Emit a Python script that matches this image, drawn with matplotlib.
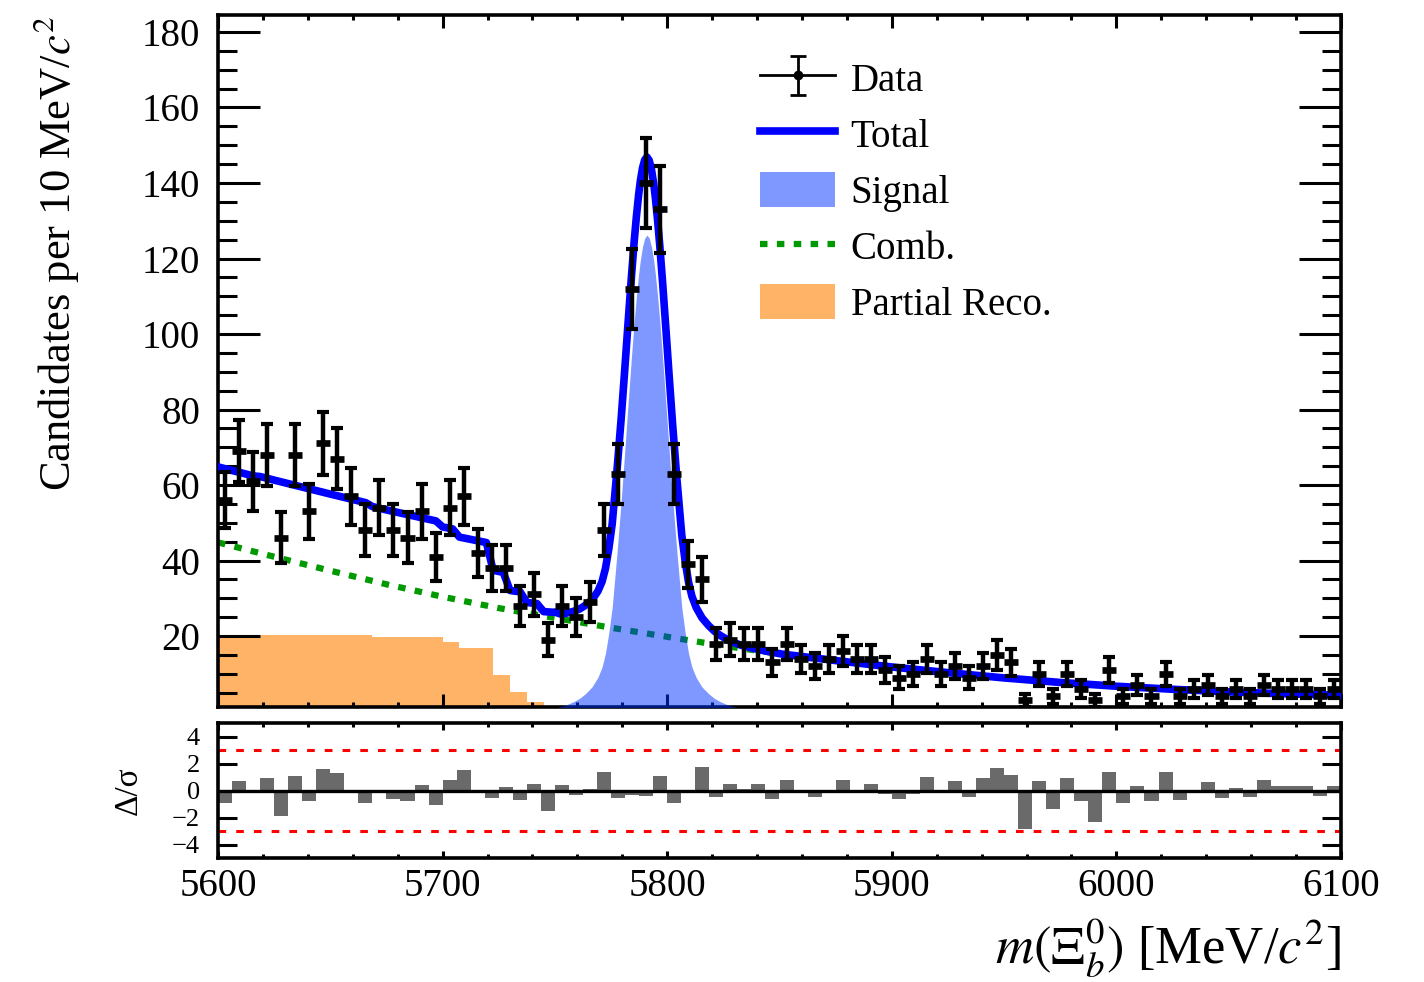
import numpy as np
import matplotlib.pyplot as plt
from matplotlib.lines import Line2D
from matplotlib.patches import Patch
from matplotlib.ticker import MultipleLocator

plt.rcParams['font.family'] = 'serif'
plt.rcParams['font.serif'] = ['Liberation Serif', 'DejaVu Serif']
plt.rcParams['mathtext.fontset'] = 'stix'

# binning of the data histogram
m_lo, m_hi = 5600.0, 6100.0
bin_w = 6.25

# candidates per bin
counts = [56, 69, 61, 68, 46, 68, 53, 71, 67, 57,
          48, 54, 48, 46, 53, 41, 54, 57, 42, 38,
          38, 28, 31, 19, 28, 25, 29, 48, 63, 112,
          140, 133, 63, 39, 35, 18, 19, 18, 18, 13,
          18, 14, 12, 14, 16, 14, 14, 11, 9, 10,
          14, 10, 12, 9, 12, 15, 13, 3, 10, 4,
          10, 6, 3, 11, 4, 7, 4, 10, 4, 6,
          7, 4, 6, 4, 7, 6, 6, 6, 4, 6]

# pulls per bin
pulls = [-0.9, 0.7, -0.2, 0.9, -1.9, 1.1, -0.75, 1.6, 1.3, 0.05,
         -0.9, 0.05, -0.6, -0.75, 0.4, -1.05, 0.8, 1.5, -0.05, -0.55,
         0.25, -0.7, 0.5, -1.5, 0.4, -0.35, 0.1, 1.4, -0.55, -0.3,
         -0.4, 1.1, -0.9, 0.05, 1.75, -0.45, 0.45, 0.1, 0.45, -0.65,
         0.75, 0.05, -0.45, 0.05, 0.8, 0.05, 0.5, -0.25, -0.65, -0.25,
         1.0, 0.05, 0.7, -0.45, 0.9, 1.7, 1.15, -2.85, 0.7, -1.35,
         0.9, -0.75, -2.3, 1.4, -0.95, 0.3, -0.8, 1.35, -0.7, 0.05,
         0.6, -0.55, 0.2, -0.5, 0.75, 0.3, 0.3, 0.35, -0.4, 0.35]

# combinatorial background curve (mass, value)
comb_m = [5600, 5625, 5650, 5675, 5700, 5725, 5750, 5775, 5800, 5825, 5850,
          5875, 5900, 5925, 5950, 5975, 6000, 6025, 6050, 6075, 6100]
comb_v = [44.8, 41.0, 37.3, 33.7, 30.4, 27.4, 24.8, 22.2, 19.8, 17.4, 15.3,
          13.5, 11.8, 10.3, 8.9, 7.7, 6.7, 5.9, 5.2, 4.7, 4.3]

# signal shape: distance from peak and height
sig_mean = 5791.0
sig_h = [0, 1, 2, 3, 3.75, 4.7, 5.7, 7, 8.55, 10, 11.5, 13.35, 15.5, 17,
         18.5, 20, 21.9, 24.5, 27.5, 30, 32.7, 37, 42, 50, 60]
sig_v = [126.2, 125.4, 123.1, 119.4, 115.7, 110.1, 103.3, 93.3, 80.4, 68.1,
         55.8, 42.0, 27.5, 20.8, 15.4, 11.8, 9.0, 6.5, 4.7, 3.5, 2.6, 1.5,
         0.8, 0.3, 0.0]

# partially reconstructed background (step template)
pr_edges = [5600, 5618.75, 5668.75, 5700, 5707.5, 5722.5, 5730, 5737.5, 5745, 5752.5]
pr_vals = [20.0, 20.3, 19.7, 18.5, 16.7, 9.7, 5.2, 2.6, 0.6]

counts = np.array(counts, dtype=float)
pulls = np.array(pulls)
centers = m_lo + bin_w * (np.arange(len(counts)) + 0.5)

sig_h = np.array(sig_h)
sig_v = np.array(sig_v)
sig_m = np.concatenate([sig_mean - sig_h[::-1], sig_mean + sig_h[1:]])
sig_y = np.concatenate([sig_v[::-1], sig_v[1:]])

# total = sum of the drawn components
pr_e = np.array(pr_edges)
grid = np.unique(np.concatenate([comb_m, sig_m, pr_e, pr_e[1:] - 3.0]))
comb_g = np.interp(grid, comb_m, comb_v)
sig_g = np.interp(grid, sig_m, sig_y, left=0, right=0)
idx = np.searchsorted(pr_e, grid, side='right') - 1
pr_g = np.where((idx >= 0) & (idx < len(pr_vals)),
                np.array(pr_vals + [0.0])[np.clip(idx, 0, len(pr_vals))], 0.0)
total_g = comb_g + sig_g + pr_g

fig = plt.figure(figsize=(14.24, 9.82), dpi=100)
W, H = 1424, 982
ax = fig.add_axes([218 / W, 1 - 707 / H, 1123 / W, 692 / H])
axr = fig.add_axes([218 / W, 1 - 858 / H, 1123 / W, 135 / H])

orange = '#FFB366'
green = '#009A00'
blue = '#0000FF'

ax.stairs(pr_vals, pr_edges, fill=True, color=orange, lw=0, zorder=1)
ax.plot(comb_m, comb_v, color=green, lw=4.5, dashes=(1.2, 1.5),
        dash_capstyle='butt', zorder=2)
ax.fill_between(sig_m, 0, sig_y, color=(0, 0.2, 1), alpha=0.5, lw=0, zorder=3)
ax.plot(grid, total_g, color=blue, lw=5.5, zorder=4)

# data: horizontal bin bars + vertical poisson errors
ax.errorbar(centers, counts, xerr=bin_w / 2, fmt='none', ecolor='k',
            elinewidth=4.8, capsize=0, zorder=5)
ax.errorbar(centers, counts, yerr=np.sqrt(counts), fmt='none', ecolor='k',
            elinewidth=3.2, capsize=4.2, capthick=3.0, zorder=5)

ax.set_xlim(m_lo, m_hi)
ax.set_ylim(1.2, 184.5)
ax.xaxis.set_major_locator(MultipleLocator(100))
ax.xaxis.set_minor_locator(MultipleLocator(20))
ax.yaxis.set_major_locator(MultipleLocator(20))
ax.yaxis.set_minor_locator(MultipleLocator(5))
ax.tick_params(which='both', direction='in', top=True, right=True, width=2.2,
               labelbottom=False, labelsize=28)
ax.tick_params(axis='y', which='major', length=30, pad=13)
ax.tick_params(axis='y', which='minor', length=14)
ax.tick_params(axis='x', which='major', length=9.5)
ax.tick_params(axis='x', which='minor', length=3.6)
for s in ax.spines.values():
    s.set_linewidth(2.6)

ax.set_ylabel('Candidates per 10 MeV/$c^2$', fontsize=32, loc='top')
ax.yaxis.set_label_coords(-0.122, 1.0)

# legend
h_data = ax.errorbar([np.nan], [np.nan], yerr=[1], fmt='-o', ms=6, lw=2,
                     color='k', elinewidth=2, capsize=6, capthick=2)
handles = [h_data,
           Line2D([], [], color=blue, lw=5.5),
           Patch(facecolor=(0, 0.2, 1), alpha=0.5, lw=0),
           Line2D([], [], color=green, lw=4.5, dashes=(1.2, 1.5), dash_capstyle='butt'),
           Patch(facecolor=orange, lw=0)]
labels = ['Data', 'Total', 'Signal', 'Comb.', 'Partial Reco.']
ax.legend(handles, labels, loc='upper left', bbox_to_anchor=(760 / W, 1 - 60 / H),
          bbox_transform=fig.transFigure, frameon=False, fontsize=28,
          borderpad=0, borderaxespad=0, handlelength=1.93, handleheight=1.0,
          handletextpad=0.4, labelspacing=0.42)

# pull panel
axr.bar(centers, pulls, width=bin_w, color='#6A6A6A', lw=0, zorder=1)
axr.axhline(0, color='k', lw=2.4, zorder=2)
for v in (3, -3):
    axr.axhline(v, color='red', lw=2.2, dashes=(2.5, 3.3), zorder=2)
axr.set_xlim(m_lo, m_hi)
axr.set_ylim(-5, 5)
axr.xaxis.set_major_locator(MultipleLocator(100))
axr.xaxis.set_minor_locator(MultipleLocator(20))
axr.set_yticks([-4, -2, 0, 2, 4])
axr.tick_params(which='both', direction='in', top=True, right=True, width=2.2)
axr.tick_params(axis='x', which='major', length=5, labelsize=28, pad=7)
axr.tick_params(axis='x', which='minor', length=3)
axr.tick_params(axis='y', which='major', length=14, labelsize=19, pad=13)
for s in axr.spines.values():
    s.set_linewidth(2.6)
axr.set_ylabel('Δ/σ', fontsize=24)
axr.yaxis.set_label_coords(-0.066, 0.5)

axr.set_xlabel(r'$m(\Xi_b^0)$ [MeV/$c^2$]', fontsize=38, loc='right')
axr.xaxis.set_label_coords(1.0, -0.44)

fig.savefig('out.png', dpi=100)
